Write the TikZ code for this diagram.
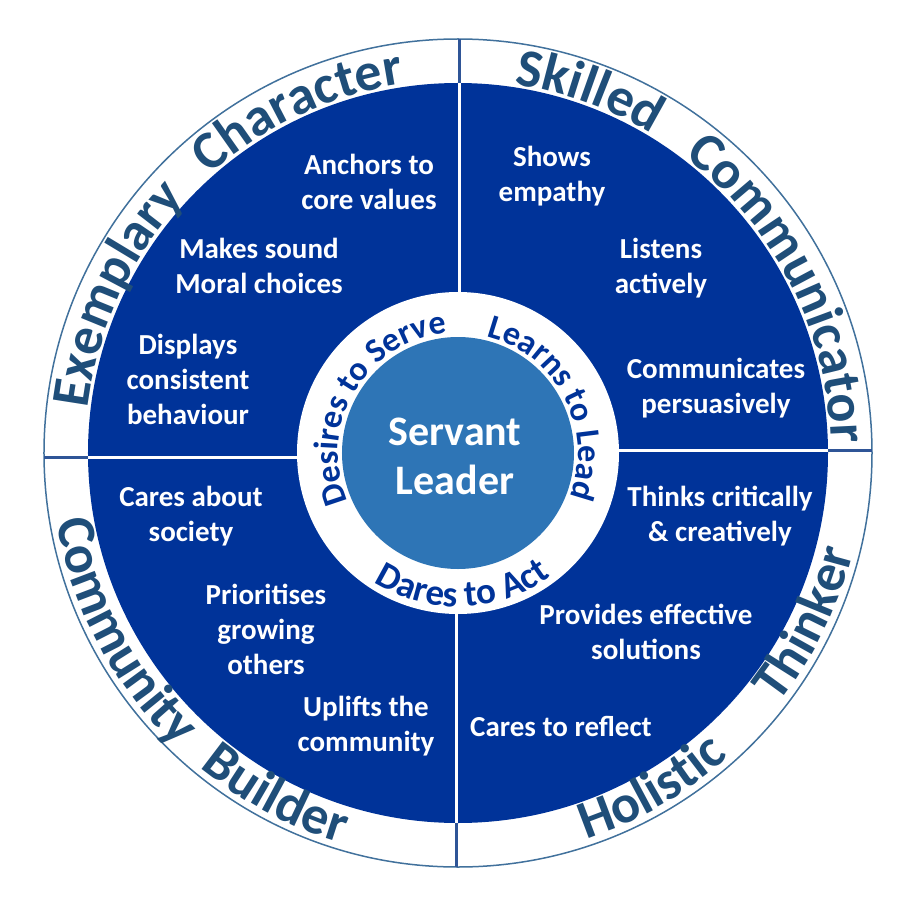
\documentclass[tikz,border=0pt]{standalone}
\usepackage{fontspec}
\setmainfont{Carlito}
\usetikzlibrary{decorations.text}
\usepackage{xcolor}
\definecolor{cnavy} {HTML}{003399}
\definecolor{cmid}  {HTML}{2E75B6}
\definecolor{cslate}{HTML}{1F4E79}
\definecolor{crim}  {HTML}{41719C}
\definecolor{cdiv}  {HTML}{2F5597}
\newcommand\ringbig{\fontsize{54}{54}\selectfont\bfseries}
\newcommand\ringsmall{\fontsize{34}{34}\selectfont\bfseries}
\newcommand\ringlow{\fontsize{37}{37}\selectfont\bfseries}

\begin{document}
\begin{tikzpicture}[
  x=1pt, y=1pt,
  item/.style    = {text=white, align=center, font=\fontsize{29}{35}\selectfont\bfseries},
  hub/.style     = {text=white, align=center, font=\fontsize{42}{49}\selectfont\bfseries},
  outtop/.style  = {decorate, decoration={text along path, text align=center,
                    text color=cslate, text={|\ringbig|#1}}},
  intop/.style   = {decorate, decoration={text along path, text align=center,
                    text color=cnavy, text={|\ringsmall|#1}}},
  inbot/.style   = {decorate, decoration={text along path, text align=center,
                    text color=cnavy, text={|\ringlow|#1}}},
  odiv/.style    = {draw=cdiv, line width=3},
  wdiv/.style    = {draw=white, line width=3}
]
\useasboundingbox (-458,-444) rectangle (465,453);

%% ── Discs ─────────────────────────────────────────────────────────────────
\draw[crim, line width=1.5, fill=white] (0,0) circle[radius=414];
\fill[cnavy] (0,0) circle[radius=370];
\fill[white] (0,0) circle[radius=161];
\fill[cmid]  (0,0) circle[radius=116];

%% ── Dividers ──────────────────────────────────────────────────────────────
\draw[odiv] (1,370)  -- (1,414);
\draw[odiv] (370,3)  -- (414,3);
\draw[odiv] (-370,-4) -- (-414,-4);
\draw[odiv] (-2,-370) -- (-2,-414);
\draw[wdiv] (1,161)  -- (1,370);
\draw[wdiv] (161,3)  -- (370,3);
\draw[wdiv] (-161,-4) -- (-370,-4);
\draw[wdiv] (-2,-161) -- (-2,-370);

%% ── Outer ring words ──────────────────────────────────────────────────────
% upper half: clockwise, letters point outwards
\path[outtop=Exemplary]    (215:373) arc[start angle=215, end angle=95,  radius=373];
\path[outtop=Character]    (175:373) arc[start angle=175, end angle=55,  radius=373];
\path[outtop=Skilled]      (130:373) arc[start angle=130, end angle=10,  radius=373];
\path[outtop=Communicator] (87:373)  arc[start angle=87,  end angle=-33, radius=373];
% lower half: counter-clockwise, letters point inwards
\path[outtop=Community]    (148:407) arc[start angle=148, end angle=268, radius=407];
\path[outtop=Builder]      (182:407) arc[start angle=182, end angle=302, radius=407];
\path[outtop=Holistic]     (-120:407) arc[start angle=-120, end angle=0,  radius=407];
\path[outtop=Thinker]      (-86:407) arc[start angle=-86, end angle=34,  radius=407];

%% ── Inner ring words ──────────────────────────────────────────────────────
\path[intop=Desires to Serve] (229.5:120) arc[start angle=229.5, end angle=69.5, radius=120];
\path[intop=Learns to Lead]   (107.5:120) arc[start angle=107.5, end angle=-52.5, radius=120];
\path[inbot=Dares to Act]     (-168:154) arc[start angle=-168, end angle=-8, radius=154];

%% ── Hub ───────────────────────────────────────────────────────────────────
\node[hub] (hub) at (-3,-3) {Servant\\Leader};

%% ── Quadrant items ────────────────────────────────────────────────────────
% Exemplary Character
\node[item] (anchors)  at (-89,271)  {Anchors to\\core values};
\node[item] (moral)    at (-199,187) {Makes sound\\Moral choices};
\node[item] (displays) at (-270,74)  {Displays\\consistent\\behaviour};
% Skilled Communicator
\node[item] (empathy)  at (94,277)   {Shows\\empathy};
\node[item] (listens)  at (203,185)  {Listens\\actively};
\node[item] (persuade) at (258,65)   {Communicates\\persuasively};
% Holistic Thinker
\node[item] (thinks)   at (262,-63)  {Thinks critically\\\& creatively};
\node[item] (solve)    at (188,-179) {Provides effective\\solutions};
\node[item] (reflect)  at (103,-273) {Cares to reflect};
% Community Builder
\node[item] (society)  at (-267,-63) {Cares about\\society};
\node[item] (growing)  at (-192,-176){Prioritises\\growing\\others};
\node[item] (uplifts)  at (-92,-273) {Uplifts the\\community};

\end{tikzpicture}
\end{document}
